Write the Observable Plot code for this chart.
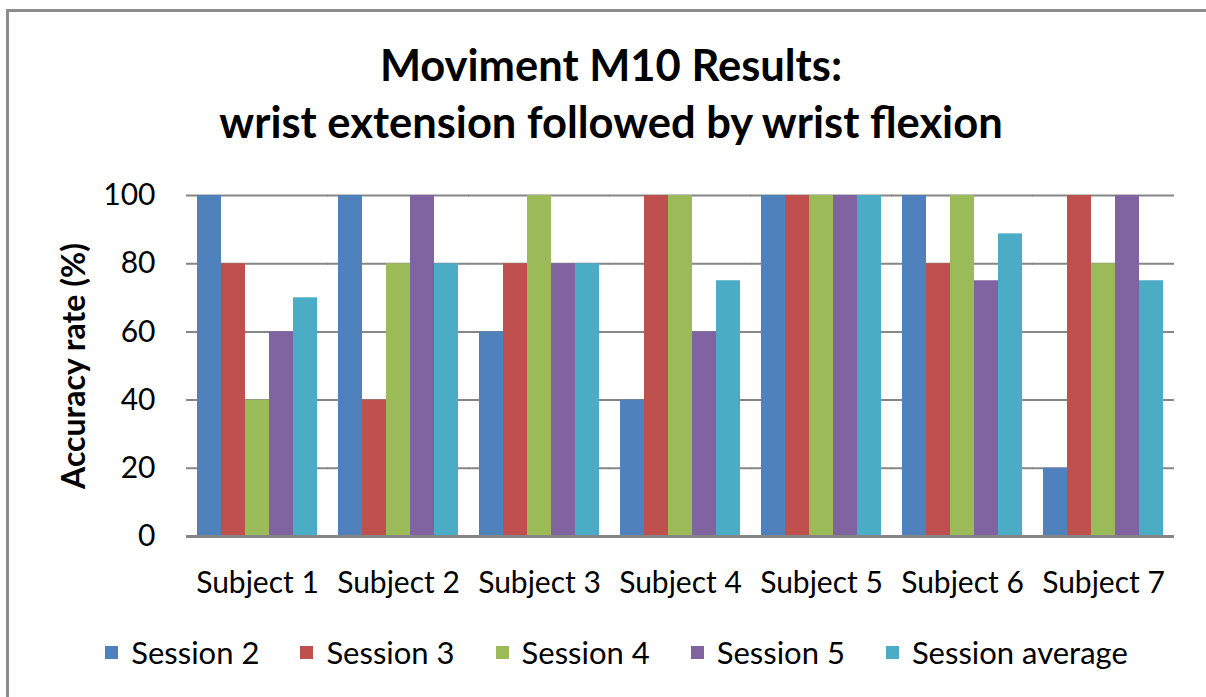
<!DOCTYPE html>
<html><head><meta charset="utf-8">
<script src="https://cdn.jsdelivr.net/npm/d3@7"></script>
<script src="https://cdn.jsdelivr.net/npm/@observablehq/plot@0.6"></script>
<style>
html,body{margin:0;padding:0;background:#fff;width:1206px;height:697px;overflow:hidden;font-family:Lato,sans-serif;}
#frame{position:absolute;left:6px;top:9px;width:1400px;height:900px;border-left:3px solid #8c8c8c;border-top:3px solid #8c8c8c;}
#title{position:absolute;left:0;width:1222px;top:36px;text-align:center;font-weight:bold;font-size:43.5px;line-height:57px;color:#000;}
#chart{position:absolute;left:0;top:170px;}
#legend{position:absolute;left:0;width:1233px;top:632px;display:flex;justify-content:center;gap:41px;font-size:31px;line-height:40px;color:#000;}
.item{display:flex;align-items:center;gap:13px;}
.sw{width:13px;height:13px;display:inline-block;}
</style></head>
<body>
<div id="frame"></div>
<div id="title">Moviment M10 Results:<br>wrist extension followed by wrist flexion</div>
<div id="chart"></div>
<div id="legend"></div>
<script>
const subjects = ["Subject 1","Subject 2","Subject 3","Subject 4","Subject 5","Subject 6","Subject 7"];
const series = ["Session 2","Session 3","Session 4","Session 5","Session average"];
const session2 = [100,100,60,40,100,100,20];
const session3 = [80,40,80,100,100,80,100];
const session4 = [40,80,100,100,100,100,80];
const session5 = [60,100,80,60,100,75,100];
const sessionAvg = [70,80,80,75,100,88.75,75];
const colors = ["#4F81BD","#C0504D","#9BBB59","#8064A2","#4BACC6"];
const yTicks = [0,20,40,60,80,100];
const yLabel = "Accuracy rate (%)";

const valuesBySeries = [session2, session3, session4, session5, sessionAvg];
const data = [];
subjects.forEach((s, i) => {
  series.forEach((k, j) => data.push({subject: s, series: k, value: valuesBySeries[j][i]}));
});

const ext = -10;
const chart = Plot.plot({
  width: 1206, height: 436,
  marginLeft: 184, marginRight: 30, marginTop: 25, marginBottom: 70,
  style: {fontFamily: "Lato, sans-serif", color: "#000", background: "transparent"},
  fx: {domain: subjects, paddingInner: 0.135, paddingOuter: 0.0675, label: null},
  x: {domain: series, padding: 0, axis: null},
  y: {domain: [0, 100], axis: null},
  color: {domain: series, range: colors},
  marks: [
    Plot.ruleY(yTicks.filter(d => d > 0), {stroke: "#868686", strokeWidth: 2, strokeOpacity: 1, insetLeft: ext, insetRight: ext}),
    Plot.barY(data, {fx: "subject", x: "series", y: "value", fill: "series"}),
    Plot.ruleY([0], {stroke: "#868686", strokeWidth: 3, strokeOpacity: 1, insetLeft: ext, insetRight: ext}),
    Plot.axisY({ticks: yTicks, tickSize: 0, tickPadding: 41, label: null, fontSize: 30}),
    Plot.axisFx({anchor: "bottom", tickSize: 0, tickPadding: 35, label: null, fontSize: 30}),
    Plot.text([yLabel], {fx: [subjects[0]], frameAnchor: "left", textAnchor: "middle", lineAnchor: "middle", rotate: -90, dx: -121.6, fontWeight: "bold", fontSize: 32, fill: "#000"})
  ]
});
document.getElementById("chart").appendChild(chart);

const legend = document.getElementById("legend");
series.forEach((s, i) => {
  const item = document.createElement("div");
  item.className = "item";
  const sw = document.createElement("span");
  sw.className = "sw";
  sw.style.background = colors[i];
  const t = document.createElement("span");
  t.textContent = s;
  item.appendChild(sw); item.appendChild(t);
  legend.appendChild(item);
});
</script>
</body></html>
